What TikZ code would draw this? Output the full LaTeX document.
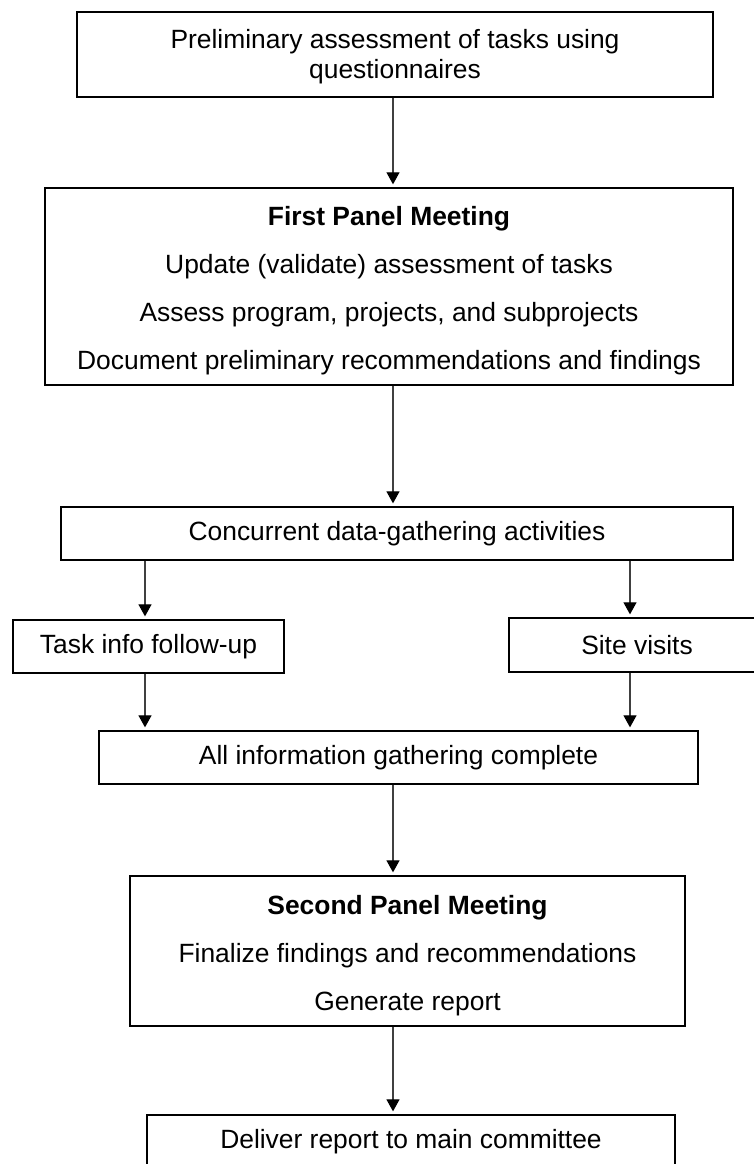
\documentclass[tikz,border=0pt]{standalone}
\usepackage{fontspec}
\setmainfont{Liberation Sans}
\usetikzlibrary{arrows.meta}
\begin{document}
\begin{tikzpicture}[x=1pt,y=-1pt,
  box/.style={draw=black,line width=1.3pt,inner sep=0pt,align=center,font=\fontsize{26.4}{30}\selectfont},
  wide/.style={font=\fontsize{26.4}{48}\selectfont},
  arr/.style={draw=black!75,line width=1.1pt,-{Triangle[length=12pt,width=13pt,color=black]},shorten >=3pt}]
\useasboundingbox (0,0) rectangle (754,1164);
\node[box,minimum width=636pt,minimum height=85pt] (b1) at (395,54.5) {\rule{0pt}{22.5pt}Preliminary assessment of tasks using\\questionnaires};
\node[box,wide,minimum width=688pt,minimum height=197pt] (b2) at (389,286.5) {\rule{0pt}{27pt}\textbf{First Panel Meeting}\\Update (validate) assessment of tasks\\Assess program, projects, and subprojects\\Document preliminary recommendations and findings};
\node[box,minimum width=672pt,minimum height=53pt] (b3) at (397,533.5) {Concurrent data-gathering activities};
\node[box,minimum width=271pt,minimum height=53pt] (b4) at (148.5,646.5) {Task info follow-up};
\node[box,minimum width=256pt,minimum height=54pt] (b5) at (637,645) {Site visits};
\node[box,minimum width=599pt,minimum height=53pt] (b6) at (398.5,757.5) {All information gathering complete};
\node[box,wide,minimum width=555pt,minimum height=150pt] (b7) at (407.5,951) {\rule{0pt}{29pt}\textbf{Second Panel Meeting}\\Finalize findings and recommendations\\Generate report};
\node[box,minimum width=528pt,minimum height=53pt] (b8) at (411,1141.5) {Deliver report to main committee};
\coordinate (cx) at (393,0);
\coordinate (lx) at (145,0);
\coordinate (rx) at (630,0);
\draw[arr] (b1.south -| cx) -- (b2.north -| cx);
\draw[arr] (b2.south -| cx) -- (b3.north -| cx);
\draw[arr] (b3.south -| lx) -- (b4.north -| lx);
\draw[arr] (b3.south -| rx) -- (b5.north -| rx);
\draw[arr] (b4.south -| lx) -- (b6.north -| lx);
\draw[arr] (b5.south -| rx) -- (b6.north -| rx);
\draw[arr] (b6.south -| cx) -- (b7.north -| cx);
\draw[arr] (b7.south -| cx) -- (b8.north -| cx);
\end{tikzpicture}
\end{document}
